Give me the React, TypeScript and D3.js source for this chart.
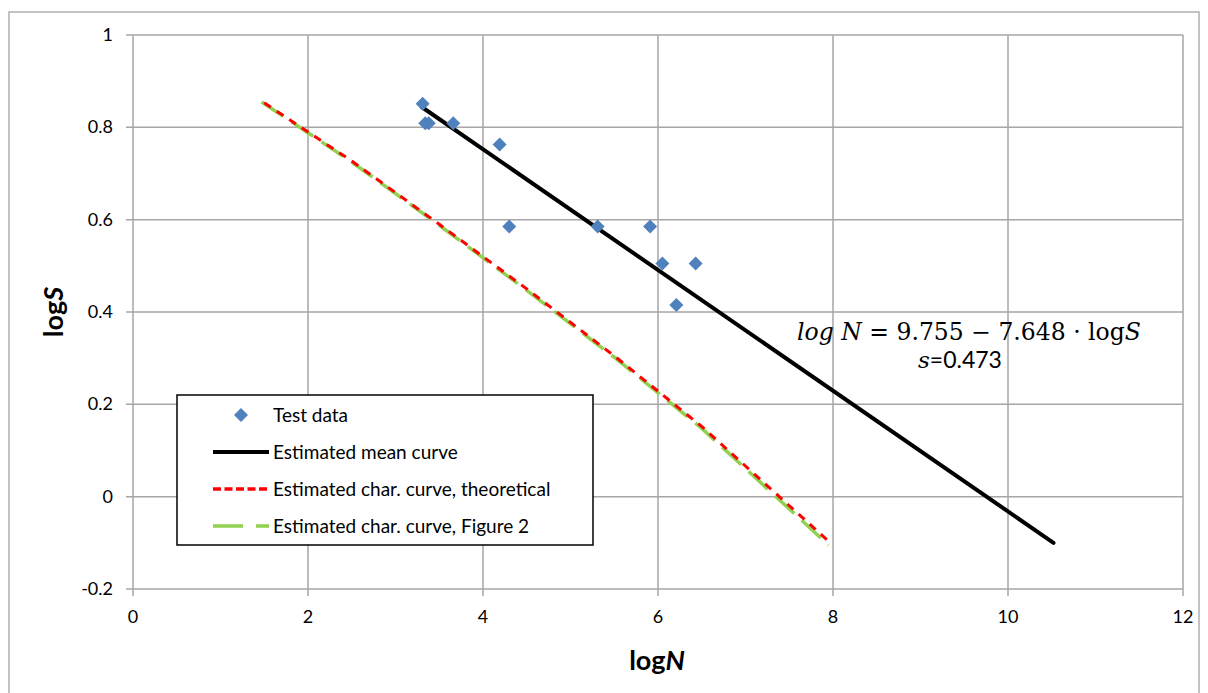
import { useEffect, useRef } from "react";
import * as d3 from "d3";

// test points (logN, logS)
const testLogN = [3.31, 3.34, 3.38, 3.66, 4.19, 4.3, 5.31, 5.91, 6.05, 6.21, 6.43];
const testLogS = [0.851, 0.809, 0.809, 0.809, 0.763, 0.585, 0.585, 0.585, 0.505, 0.415, 0.505];

// estimated mean curve end points
const meanLogN = [3.3, 10.52];
const meanLogS = [0.844, -0.1];

// characteristic curve, theoretical
const theoLogN = [1.5, 2.5, 3.5, 4.5, 5.5, 6.5, 7.97];
const theoLogS = [0.853, 0.727, 0.59, 0.45, 0.305, 0.152, -0.1];

// characteristic curve, Figure 2
const figLogN = [1.47, 2.5, 3.5, 4.5, 5.5, 6.5, 7.95];
const figLogS = [0.855, 0.725, 0.588, 0.447, 0.302, 0.148, -0.105];

const xTicks = [0, 2, 4, 6, 8, 10, 12];
const yTicks = [-0.2, 0, 0.2, 0.4, 0.6, 0.8, 1];

const legendLabels = [
  "Test data",
  "Estimated mean curve",
  "Estimated char. curve, theoretical",
  "Estimated char. curve, Figure 2",
];

const W = 1208;
const H = 693;
const SANS = "Lato, 'Open Sans', sans-serif";
const SERIF = "'DejaVu Serif', serif";

export default function App() {
  const ref = useRef<SVGSVGElement>(null);

  useEffect(() => {
    const svg = d3.select(ref.current);
    svg.selectAll("*").remove();

    const x = d3.scaleLinear().domain([0, 12]).range([133, 1183]);
    const y = d3.scaleLinear().domain([-0.2, 1]).range([589, 35]);

    // outer chart frame
    svg
      .append("rect")
      .attr("x", 9)
      .attr("y", 12)
      .attr("width", 1190)
      .attr("height", 700)
      .attr("fill", "white")
      .attr("stroke", "#b0b0b0")
      .attr("stroke-width", 1.5);

    const grid = svg.append("g").attr("stroke", "#a6a6a6").attr("stroke-width", 1.5);
    grid
      .selectAll(".vg")
      .data(xTicks)
      .enter()
      .append("line")
      .attr("x1", (d) => x(d))
      .attr("x2", (d) => x(d))
      .attr("y1", y(1))
      .attr("y2", y(-0.2) + 7);
    grid
      .selectAll(".hg")
      .data(yTicks)
      .enter()
      .append("line")
      .attr("x1", x(0) - 7)
      .attr("x2", x(12))
      .attr("y1", (d) => y(d))
      .attr("y2", (d) => y(d));

    // tick labels
    svg
      .append("g")
      .selectAll("text")
      .data(yTicks)
      .enter()
      .append("text")
      .attr("x", 113)
      .attr("y", (d) => y(d) + 6)
      .attr("text-anchor", "end")
      .style("font-family", SANS)
      .style("font-size", "18px")
      .attr("fill", "#000")
      .text((d) => `${+d.toFixed(1)}`);

    svg
      .append("g")
      .selectAll("text")
      .data(xTicks)
      .enter()
      .append("text")
      .attr("x", (d) => x(d))
      .attr("y", 623)
      .attr("text-anchor", "middle")
      .style("font-family", SANS)
      .style("font-size", "18px")
      .attr("fill", "#000")
      .text((d) => `${d}`);

    // axis titles
    const xt = svg
      .append("text")
      .attr("x", 657)
      .attr("y", 670)
      .attr("text-anchor", "middle")
      .style("font-family", SANS)
      .style("font-size", "27px")
      .style("font-weight", "bold");
    xt.append("tspan").text("log");
    xt.append("tspan").style("font-style", "italic").text("N");

    const yt = svg
      .append("text")
      .attr("transform", "translate(63,312) rotate(-90)")
      .attr("text-anchor", "middle")
      .style("font-family", SANS)
      .style("font-size", "27px")
      .style("font-weight", "bold");
    yt.append("tspan").text("log");
    yt.append("tspan").style("font-style", "italic").text("S");

    const line = d3
      .line<[number, number]>()
      .x((d) => x(d[0]))
      .y((d) => y(d[1]));

    // Figure 2 curve (green), theoretical (red) on top
    svg
      .append("path")
      .attr("d", line(d3.zip(figLogN, figLogS) as [number, number][]))
      .attr("fill", "none")
      .attr("stroke", "#92d050")
      .attr("stroke-width", 3.5)
      .attr("stroke-dasharray", "26 10");
    svg
      .append("path")
      .attr("d", line(d3.zip(theoLogN, theoLogS) as [number, number][]))
      .attr("fill", "none")
      .attr("stroke", "#ff0000")
      .attr("stroke-width", 3)
      .attr("stroke-dasharray", "8 7");

    // mean curve
    svg
      .append("path")
      .attr("d", line(d3.zip(meanLogN, meanLogS) as [number, number][]))
      .attr("fill", "none")
      .attr("stroke", "black")
      .attr("stroke-width", 4)
      .attr("stroke-linecap", "round");

    // test data diamonds
    const diamond = d3.symbol().type(d3.symbolDiamond2).size(125);
    svg
      .append("g")
      .selectAll("path")
      .data(d3.zip(testLogN, testLogS))
      .enter()
      .append("path")
      .attr("d", diamond)
      .attr("transform", (d) => `translate(${x(d[0])},${y(d[1])})`)
      .attr("fill", "#4f81bd");

    // equation
    const eq = svg
      .append("text")
      .attr("x", 969)
      .attr("y", 340)
      .attr("text-anchor", "middle")
      .style("font-family", SERIF)
      .style("font-size", "23.5px")
      .attr("fill", "#000");
    eq.append("tspan").style("font-style", "italic").text("log N");
    eq.append("tspan").text(" = 9.755 − 7.648 · log");
    eq.append("tspan").style("font-style", "italic").text("S");

    const sd = svg
      .append("text")
      .attr("x", 960)
      .attr("y", 368)
      .attr("text-anchor", "middle")
      .style("font-size", "23px")
      .attr("fill", "#000");
    sd.append("tspan").style("font-family", SERIF).style("font-style", "italic").text("s");
    sd.append("tspan").style("font-family", SANS).text("=0.473");

    // legend
    const lg = svg.append("g");
    lg.append("rect")
      .attr("x", 177)
      .attr("y", 395)
      .attr("width", 416)
      .attr("height", 150)
      .attr("fill", "white")
      .attr("stroke", "black")
      .attr("stroke-width", 1.5);

    const rows = lg
      .selectAll(".legend")
      .data(legendLabels)
      .enter()
      .append("g")
      .attr("class", "legend")
      .attr("transform", (_, i) => `translate(0, ${415 + i * 37})`);

    rows
      .append("text")
      .attr("x", 273)
      .attr("y", 6.5)
      .style("font-family", SANS)
      .style("font-size", "19px")
      .attr("fill", "#000")
      .text((d) => d);

    rows
      .filter((_, i) => i === 0)
      .append("path")
      .attr("d", diamond)
      .attr("transform", "translate(241,0)")
      .attr("fill", "#4f81bd");

    const sample = [
      null,
      { c: "black", w: 4, dash: null },
      { c: "#ff0000", w: 3.5, dash: "8 3.5" },
      { c: "#92d050", w: 3.5, dash: "30 13" },
    ];
    rows
      .filter((_, i) => i > 0)
      .append("line")
      .attr("x1", 213)
      .attr("x2", 269)
      .attr("y1", 0)
      .attr("y2", 0)
      .attr("stroke", (_, i) => sample[i + 1]!.c)
      .attr("stroke-width", (_, i) => sample[i + 1]!.w)
      .attr("stroke-dasharray", (_, i) => sample[i + 1]!.dash);
  }, []);

  return (
    <svg
      ref={ref}
      width={W}
      height={H}
      style={{ position: "absolute", left: 0, top: 0, background: "white" }}
    />
  );
}
